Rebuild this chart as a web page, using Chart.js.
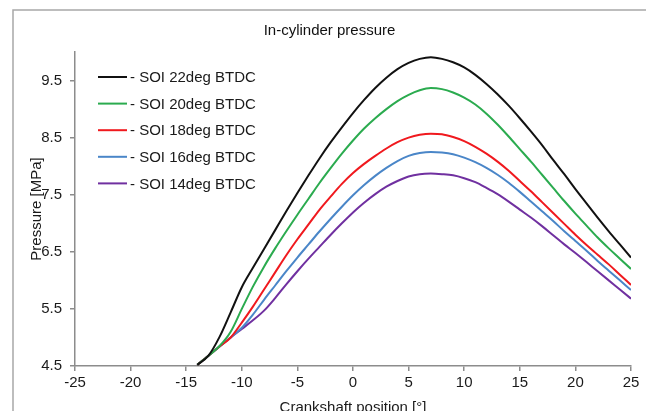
<!DOCTYPE html>
<html>
<head>
<meta charset="utf-8">
<script src="https://cdn.jsdelivr.net/npm/chart.js@4.4.1/dist/chart.umd.min.js"></script>
<style>
  html, body { margin: 0; padding: 0; background: #fff; }
  #wrap { width: 646px; height: 411px; }
</style>
</head>
<body>
<div id="wrap"><canvas id="pressureChart" width="646" height="411"></canvas></div>
<script>
"use strict";

// crank angle [deg]
var crank = [-14, -13, -12, -11, -10, -9, -8, -7, -6, -5, -4, -3, -2, -1, 0, 1, 2, 3, 4, 5, 6, 7, 8, 9, 10, 11, 12, 13, 14, 15, 16, 17, 18, 19, 20, 21, 22, 23, 24, 25];

var soi22 = [4.52, 4.68, 5.01, 5.44, 5.88, 6.22, 6.55, 6.88, 7.21, 7.53, 7.84, 8.14, 8.42, 8.68, 8.93, 9.16, 9.37, 9.55, 9.70, 9.81, 9.88, 9.91, 9.88, 9.82, 9.73, 9.60, 9.44, 9.26, 9.06, 8.84, 8.61, 8.37, 8.11, 7.86, 7.60, 7.35, 7.10, 6.86, 6.63, 6.40];
var soi20 = [4.52, 4.68, 4.85, 5.10, 5.50, 5.89, 6.24, 6.56, 6.86, 7.15, 7.43, 7.71, 7.97, 8.22, 8.45, 8.66, 8.84, 9.00, 9.14, 9.25, 9.33, 9.37, 9.35, 9.29, 9.20, 9.08, 8.92, 8.73, 8.52, 8.30, 8.08, 7.85, 7.62, 7.39, 7.17, 6.96, 6.75, 6.56, 6.38, 6.20];
var soi18 = [4.52, 4.68, 4.84, 5.00, 5.26, 5.54, 5.84, 6.14, 6.44, 6.72, 6.98, 7.24, 7.47, 7.69, 7.88, 8.04, 8.18, 8.31, 8.42, 8.50, 8.55, 8.57, 8.56, 8.51, 8.44, 8.34, 8.22, 8.08, 7.92, 7.74, 7.56, 7.37, 7.18, 6.99, 6.80, 6.62, 6.45, 6.28, 6.10, 5.92];
var soi16 = [4.52, 4.68, 4.84, 5.00, 5.17, 5.40, 5.66, 5.91, 6.16, 6.40, 6.63, 6.86, 7.08, 7.29, 7.49, 7.67, 7.83, 7.97, 8.09, 8.18, 8.23, 8.25, 8.24, 8.21, 8.15, 8.07, 7.97, 7.85, 7.71, 7.55, 7.38, 7.21, 7.04, 6.86, 6.69, 6.52, 6.34, 6.17, 6.00, 5.83];
var soi14 = [4.52, 4.68, 4.84, 5.00, 5.15, 5.30, 5.47, 5.69, 5.93, 6.16, 6.38, 6.59, 6.80, 7.00, 7.19, 7.36, 7.51, 7.64, 7.74, 7.82, 7.86, 7.87, 7.86, 7.84, 7.79, 7.72, 7.62, 7.51, 7.38, 7.24, 7.10, 6.95, 6.79, 6.63, 6.48, 6.32, 6.16, 6.00, 5.84, 5.68];

var seriesNames = ['- SOI 22deg BTDC', '- SOI 20deg BTDC', '- SOI 18deg BTDC', '- SOI 16deg BTDC', '- SOI 14deg BTDC'];
var seriesValues = [soi22, soi20, soi18, soi16, soi14];
var lineColors = ['#111111', '#2bab4f', '#f0191e', '#4a86c8', '#7030a0'];

var yTicks = [4.5, 5.5, 6.5, 7.5, 8.5, 9.5];
var xTicks = [-25, -20, -15, -10, -5, 0, 5, 10, 15, 20, 25];

var FONT = "'Liberation Sans', Arial, sans-serif";
var axisGrey = '#8c8c8c';

// outer grey frame, as in the exported sheet
var framePlugin = {
	id: 'frame',
	beforeDraw: function (chart) {
		var ctx = chart.ctx;
		ctx.save();
		ctx.fillStyle = '#ffffff';
		ctx.fillRect(0, 0, chart.width, chart.height);
		ctx.strokeStyle = '#a8a8a8';
		ctx.lineWidth = 1.5;
		ctx.strokeRect(13, 10, chart.width + 20, chart.height + 20);
		ctx.restore();
	}
};

// legend drawn inside the plot, top left
var innerLegend = {
	id: 'innerLegend',
	afterDatasetsDraw: function (chart) {
		var ctx = chart.ctx;
		var area = chart.chartArea;
		ctx.save();
		ctx.font = '15px ' + FONT;
		ctx.textBaseline = 'middle';
		chart.data.datasets.forEach(function (ds, i) {
			var y = area.top + 25 + i * 26.6;
			ctx.strokeStyle = ds.borderColor;
			ctx.lineWidth = 2;
			ctx.beginPath();
			ctx.moveTo(area.left + 23, y);
			ctx.lineTo(area.left + 52, y);
			ctx.stroke();
			ctx.fillStyle = '#1a1a1a';
			ctx.fillText(ds.label, area.left + 55, y + 1);
		});
		ctx.restore();
	}
};

var datasets = [];
seriesValues.forEach(function (vals, i) {
	datasets.push({
		label: seriesNames[i],
		data: crank.map(function (x, j) { return { x: x, y: vals[j] }; }),
		borderColor: lineColors[i],
		backgroundColor: lineColors[i],
		borderWidth: 2,
		pointRadius: 0,
		cubicInterpolationMode: 'monotone',
		fill: false
	});
});

const context = document.getElementById('pressureChart');
const myChart = new Chart(context, {
	type: 'line',
	data: { datasets: datasets },
	plugins: [framePlugin, innerLegend],
	options: {
		responsive: false,
		animation: false,
		layout: {
			padding: { left: 28, top: 10, right: 15, bottom: -6 }
		},
		plugins: {
			legend: { display: false },
			tooltip: { enabled: false },
			title: {
				display: true,
				text: 'In-cylinder pressure',
				color: '#111',
				font: { family: FONT, size: 15, weight: 'normal' },
				padding: { top: 12, bottom: 12 }
			}
		},
		scales: {
			x: {
				type: 'linear',
				min: -25,
				max: 25,
				afterBuildTicks: function (scale) {
					scale.ticks = xTicks.map(function (v) { return { value: v }; });
				},
				afterFit: function (scale) { scale.height = 51; },
				ticks: {
					color: '#1a1a1a',
					padding: 3,
					maxRotation: 0,
					font: { family: FONT, size: 15 }
				},
				grid: {
					drawOnChartArea: false,
					drawTicks: true,
					tickLength: 5,
					color: axisGrey,
					lineWidth: 1.5
				},
				border: { display: true, color: axisGrey, width: 1.5 },
				title: {
					display: true,
					text: 'Crankshaft position [°]',
					color: '#1a1a1a',
					font: { family: FONT, size: 15 },
					padding: 0
				}
			},
			y: {
				min: 4.5,
				max: 10,
				afterBuildTicks: function (scale) {
					scale.ticks = yTicks.map(function (v) { return { value: v }; });
				},
				afterFit: function (scale) { scale.width = 47; },
				ticks: {
					color: '#1a1a1a',
					padding: 8,
					font: { family: FONT, size: 15 }
				},
				grid: {
					drawOnChartArea: false,
					drawTicks: true,
					tickLength: 5,
					color: axisGrey,
					lineWidth: 1.5
				},
				border: { display: true, color: axisGrey, width: 1.5 },
				title: {
					display: true,
					text: 'Pressure [MPa]',
					color: '#1a1a1a',
					font: { family: FONT, size: 15 },
					padding: 0
				}
			}
		}
	}
});
</script>
</body>
</html>
